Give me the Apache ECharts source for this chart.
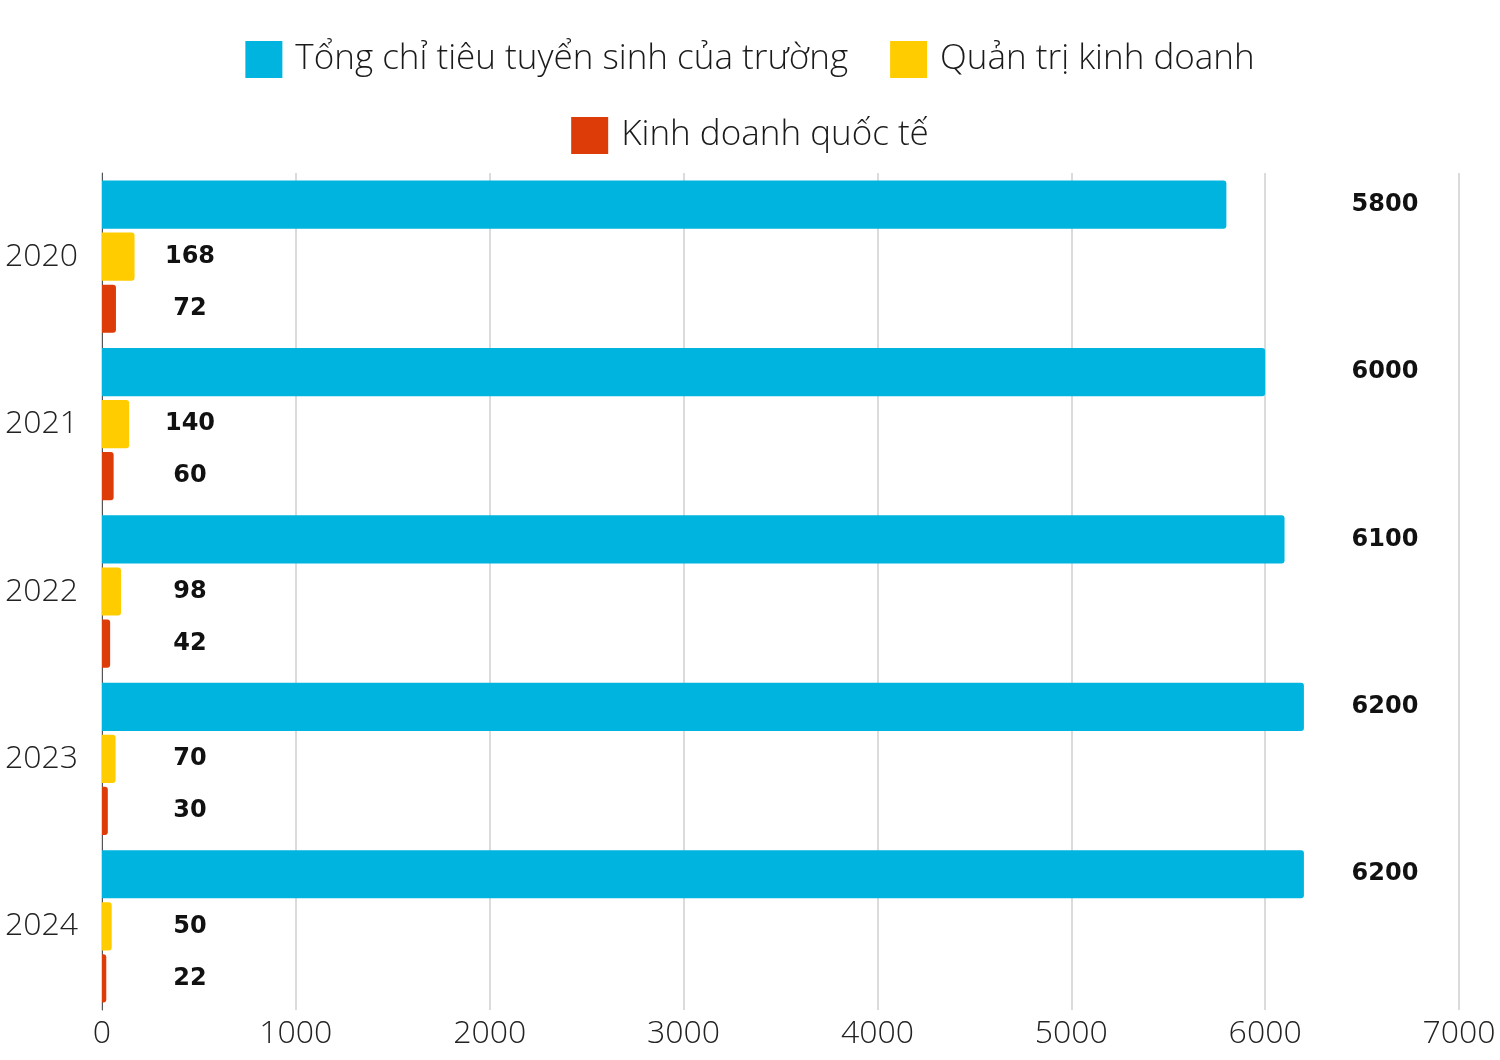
<!DOCTYPE html>
<html><head><meta charset="utf-8">
<script src="https://cdn.jsdelivr.net/npm/echarts@6/dist/echarts.min.js"></script>
<style>html,body{margin:0;padding:0;background:#fff}#c{width:1500px;height:1060px}</style>
</head><body><div id="c"></div>
<script>
const categories = ['2020', '2021', '2022', '2023', '2024'];
const seriesNames = ['Tổng chỉ tiêu tuyển sinh của trường', 'Quản trị kinh doanh', 'Kinh doanh quốc tế'];
const totalQuota = [5800, 6000, 6100, 6200, 6200];
const businessAdmin = [168, 140, 98, 70, 50];
const intlBusiness = [72, 60, 42, 30, 22];
const xTicks = [0, 1000, 2000, 3000, 4000, 5000, 6000, 7000];

const FONT = '"Open Sans", "Noto Sans", sans-serif';
const LABEL_FONT = '"DejaVu Sans", sans-serif';
const colors = ['#00B4E0', '#FFCC00', '#DD3B08'];
const labelStyle = (px) => ({
  show: true,
  position: [px, '50%'],
  align: 'center',
  verticalAlign: 'middle',
  color: '#111',
  fontWeight: 'bold',
  fontSize: 24,
  fontFamily: LABEL_FONT
});
const legendBase = {
  left: 'center',
  itemWidth: 37,
  itemHeight: 37,
  itemGap: 42,
  icon: 'rect',
  textStyle: { fontSize: 35, fontFamily: FONT, fontWeight: 300, color: '#1a1a1a', padding: [0, 0, 0, 8] }
};

const chart = echarts.init(document.getElementById('c'));
chart.setOption({
  animation: false,
  backgroundColor: '#fff',
  color: colors,
  legend: [
    Object.assign({}, legendBase, { top: 36, data: seriesNames.slice(0, 2) }),
    Object.assign({}, legendBase, { top: 112, data: seriesNames.slice(2) })
  ],
  grid: { left: 102, right: 41, top: 173, bottom: 50, containLabel: false },
  xAxis: {
    type: 'value',
    min: xTicks[0],
    max: xTicks[xTicks.length - 1],
    interval: xTicks[1] - xTicks[0],
    axisLine: { show: false },
    axisTick: { show: false },
    splitLine: { show: true, lineStyle: { color: '#cfcfcf', width: 1.5 } },
    axisLabel: { fontSize: 32, fontFamily: FONT, fontWeight: 300, color: '#222', margin: 8, formatter: (v) => String(v) }
  },
  yAxis: {
    type: 'category',
    inverse: true,
    data: categories,
    axisLine: { show: true, lineStyle: { color: '#555', width: 1 } },
    axisTick: { show: false },
    axisLabel: { fontSize: 32, fontFamily: FONT, fontWeight: 300, color: '#222', margin: 24 }
  },
  series: [
    {
      name: seriesNames[0], type: 'bar', data: totalQuota,
      barCategoryGap: '9%', barGap: '8%',
      itemStyle: { color: colors[0], borderRadius: [0, 3, 3, 0] },
      label: labelStyle(1283)
    },
    {
      name: seriesNames[1], type: 'bar', data: businessAdmin,
      itemStyle: { color: colors[1], borderRadius: [0, 3, 3, 0] },
      label: labelStyle(88)
    },
    {
      name: seriesNames[2], type: 'bar', data: intlBusiness,
      itemStyle: { color: colors[2], borderRadius: [0, 3, 3, 0] },
      label: labelStyle(88)
    }
  ]
});
</script></body></html>
